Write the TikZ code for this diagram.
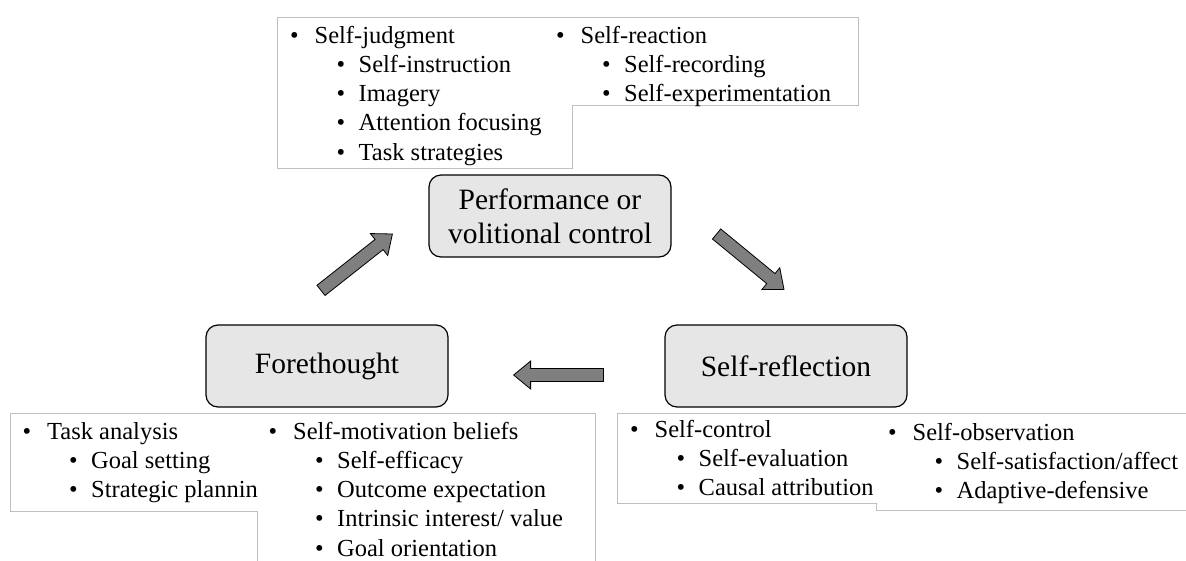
\documentclass[tikz,border=0pt]{standalone}
\usepackage{fontspec}
\setmainfont{Liberation Serif}
\usetikzlibrary{calc}

\definecolor{phasefill}{HTML}{E7E6E6}
\definecolor{arrowfill}{HTML}{7F7F7F}
\definecolor{listline}{HTML}{BFBFBF}

\newcommand{\itemfont}{\fontsize{24.5}{29.3}\selectfont}
\newcommand{\labelfont}{\fontsize{29.5}{34}\selectfont}
\newcommand{\bulA}[1]{\makebox[24.5pt][l]{•}#1}
\newcommand{\bulB}[1]{\makebox[22pt][l]{•}#1}
\newcommand{\phasearrow}[2]{%
  \coordinate (#1-h) at ($(#2)!17pt!(#1)$);
  \draw[blockarrow] ($(#1)!6.5pt!90:(#2)$) -- ($(#1-h)!6.5pt!-90:(#1)$)
    -- ($(#1-h)!14pt!-90:(#1)$) -- (#2) -- ($(#1-h)!14pt!90:(#1)$)
    -- ($(#1-h)!6.5pt!90:(#1)$) -- ($(#1)!6.5pt!-90:(#2)$) -- cycle;}

\tikzset{
  phase/.style={draw=black, line width=1.2pt, fill=phasefill, rounded corners=12pt,
    minimum width=242pt, minimum height=82pt, inner sep=0pt, align=center, font=\labelfont},
  listbox/.style={draw=listline, line width=0.9pt},
  entry/.style={anchor=base west, inner sep=0pt, font=\itemfont},
  blockarrow/.style={draw=black, line width=0.8pt, fill=arrowfill, line join=miter}
}

\begin{document}
\begin{tikzpicture}[x=1pt,y=-1pt]
  \path[use as bounding box, clip] (0,0) rectangle (1186,560);

  \node[phase] (perf) at (550,216) {Performance or\\volitional control};
  \node[phase] (fore) at (327,366) {Forethought};
  \node[phase] (refl) at (786,366) {Self-reflection};

  \coordinate (a1s) at ($(fore.north)+(-6,-34)$);
  \coordinate (a1e) at ($(perf.west)+(-36,18)$);
  \coordinate (a2s) at ($(perf.east)+(45,18)$);
  \coordinate (a2e) at ($(refl.north)+(-2,-35)$);
  \coordinate (a3s) at ($(refl.west)+(-61,9)$);
  \coordinate (a3e) at ($(fore.east)+(65,9)$);
  \phasearrow{a1s}{a1e}
  \phasearrow{a2s}{a2e}
  \phasearrow{a3s}{a3e}

  % performance
  \draw[listbox] (277,17) -- (858,17) -- (858,105) -- (572,105) -- (572,168) -- (277,168) -- cycle;
  \node[entry] (judg) at (290,43) {\bulA{Self-judgment}};
  \foreach \txt [count=\i] in {Self-instruction,Imagery,Attention focusing,Task strategies}
    \node[entry] (judg\i) at (336.5,{43+29.3*\i}) {\bulB{\txt}};
  \node[entry] (reac) at (556,43) {\bulA{Self-reaction}};
  \foreach \txt [count=\i] in {Self-recording,Self-experimentation}
    \node[entry] (reac\i) at (602,{43+29.3*\i}) {\bulB{\txt}};

  % forethought
  \draw[listbox] (10,413) -- (595,413) -- (595,570) -- (257,570) -- (257,511) -- (10,511) -- cycle;
  \begin{scope}
    \clip (10,413) rectangle (257,511);
    \node[entry] (task) at (22.5,439) {\bulA{Task analysis}};
    \foreach \txt [count=\i] in {Goal setting,Strategic plannin}
      \node[entry] (task\i) at (69,{439+29.3*\i}) {\bulB{\txt}};
  \end{scope}
  \node[entry] (moti) at (268.5,439) {\bulA{Self-motivation beliefs}};
  \foreach \txt [count=\i] in {Self-efficacy,Outcome expectation,Intrinsic interest/ value,Goal orientation}
    \node[entry] (moti\i) at (315,{439+29.3*\i}) {\bulB{\txt}};

  % self-reflection
  \draw[listbox] (617.5,413) -- (1200,413) -- (1200,510) -- (876,510) -- (876,503) -- (617.5,503) -- cycle;
  \node[entry] (ctrl) at (630,437) {\bulA{Self-control}};
  \foreach \txt [count=\i] in {Self-evaluation,Causal attribution}
    \node[entry] (ctrl\i) at (676.5,{437+29.3*\i}) {\bulB{\txt}};
  \node[entry] (obsv) at (888,440) {\bulA{Self-observation}};
  \foreach \txt [count=\i] in {Self-satisfaction/affect,Adaptive-defensive}
    \node[entry] (obsv\i) at (934.5,{440+29.3*\i}) {\bulB{\txt}};
\end{tikzpicture}
\end{document}
